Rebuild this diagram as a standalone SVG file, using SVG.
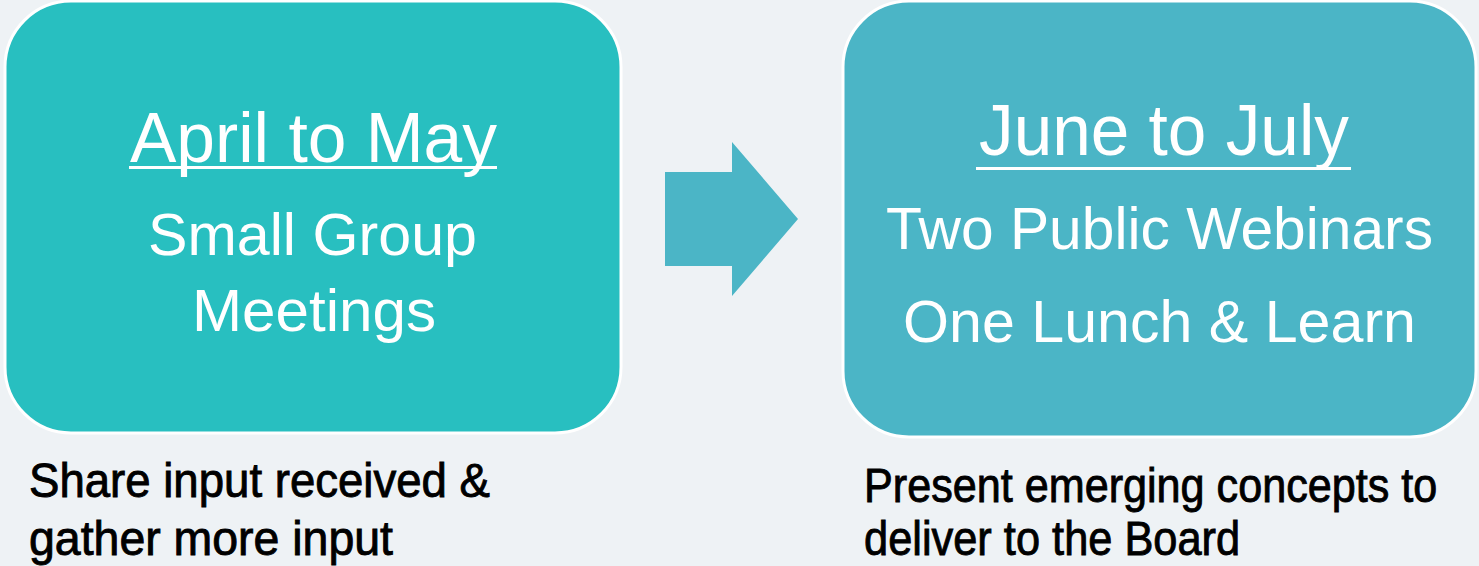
<svg xmlns="http://www.w3.org/2000/svg" width="1479" height="566" viewBox="0 0 1479 566">
<style>
.box{stroke:#FFFFFF;stroke-width:3}
.head{font-family:"Liberation Sans","DejaVu Sans",sans-serif;fill:#FFFFFF;text-anchor:start}
.cap{font-family:"Liberation Sans","DejaVu Sans",sans-serif;fill:#000000;stroke:#000000;stroke-width:0.9}
</style>
<rect x="0" y="0" width="1479" height="566" fill="#EEF2F5"/>
<g id="connectors">
<polygon points="665,172 732,172 732,142 798,219 732,296 732,266 665,266" fill="#4BB5C6"/>
</g>
<g id="node-april">
<rect class="box" x="5" y="1" width="616" height="432" rx="66" ry="66" fill="#28BFC0"/>
<text class="head" x="130" y="162" font-size="71" textLength="367" lengthAdjust="spacingAndGlyphs">April to May</text>
<rect x="129" y="166" width="368" height="3" fill="#FFFFFF"/>
<text class="head" x="148" y="255" font-size="59" textLength="329" lengthAdjust="spacingAndGlyphs">Small Group</text>
<text class="head" x="192" y="331" font-size="59" textLength="244" lengthAdjust="spacingAndGlyphs">Meetings</text>
</g>
<g id="node-june">
<rect class="box" x="843" y="1" width="633" height="436" rx="66" ry="66" fill="#4BB5C6"/>
<text class="head" x="979" y="155" font-size="72" textLength="370" lengthAdjust="spacingAndGlyphs">June to July</text>
<rect x="976" y="167" width="375" height="3" fill="#FFFFFF"/>
<text class="head" x="886" y="249" font-size="60" textLength="547" lengthAdjust="spacingAndGlyphs">Two Public Webinars</text>
<text class="head" x="903" y="342" font-size="60" textLength="513" lengthAdjust="spacingAndGlyphs">One Lunch &amp; Learn</text>
</g>
<g id="caption-april">
<text class="cap" x="29" y="497" font-size="48" textLength="461" lengthAdjust="spacingAndGlyphs">Share input received &amp;</text>
<text class="cap" x="29" y="555" font-size="48" textLength="364" lengthAdjust="spacingAndGlyphs">gather more input</text>
</g>
<g id="caption-june">
<text class="cap" transform="translate(864,502) scale(0.9,1)" x="0" y="0" font-size="48" textLength="637" lengthAdjust="spacingAndGlyphs">Present emerging concepts to</text>
<text class="cap" transform="translate(864,555) scale(0.9,1)" x="0" y="0" font-size="48" textLength="418" lengthAdjust="spacingAndGlyphs">deliver to the Board</text>
</g>
</svg>
